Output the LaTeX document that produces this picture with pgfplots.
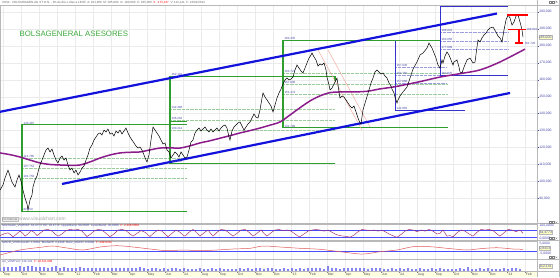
\documentclass[border=0pt]{standalone}
\usepackage{pgfplots}
\usepackage{pgfplotstable}
\pgfplotsset{compat=1.18}
\usepackage{fontspec}
\setmainfont{Liberation Sans}
\definecolor{gbox}{HTML}{2F9E2F}
\definecolor{gfib}{HTML}{9CCB9C}
\definecolor{bchan}{HTML}{1212DC}
\definecolor{bbox}{HTML}{3434CC}
\definecolor{bfib}{HTML}{9C9CE0}
\definecolor{ma}{HTML}{8C1C8C}
\definecolor{lbl}{HTML}{4848A8}
\definecolor{gridc}{HTML}{EBEBEB}
\definecolor{strip}{HTML}{FFFFE2}
\definecolor{brand}{HTML}{3DAA3D}
\definecolor{frame}{HTML}{B8B8B8}
\definecolor{stoch}{HTML}{A02C6C}
\definecolor{macd}{HTML}{E05A5A}
\definecolor{volc}{HTML}{8484F0}
\definecolor{boxfill}{HTML}{FFFFC0}
\definecolor{salmon}{HTML}{F0A090}
\newcommand{\tinyf}{\fontsize{3}{3.5}\selectfont}
\newcommand{\axf}{\fontsize{3.4}{4}\selectfont}

\pgfplotstableread{
x v
0 94.9
3 97.9
5 102.0
8 106.7
10 103.2
12 99.6
15 96.7
17 100.8
19 103.8
21 100.2
23 94.9
25 90.2
27 86.7
28 83.1
30 89.0
32 92.0
33 96.7
35 100.8
37 103.2
38 105.5
40 109.7
42 112.6
44 115.6
46 118.5
48 119.7
50 117.4
52 119.1
54 115.6
56 112.6
58 110.9
60 113.8
62 115.0
64 112.6
66 113.8
68 109.7
70 106.7
72 107.9
74 105.0
76 106.7
78 103.8
80 105.5
82 107.9
84 109.1
86 112.6
88 115.6
90 119.7
92 121.5
94 124.4
96 126.2
98 128.0
100 128.6
102 127.4
104 130.3
106 129.2
108 130.9
110 128.0
112 128.6
114 126.8
116 129.8
118 128.6
120 130.3
122 128.0
124 129.8
126 131.5
128 128.6
130 126.2
132 124.4
134 122.7
136 120.9
138 119.7
140 120.3
142 118.5
144 115.6
146 112.6
147 111.5
149 115.6
151 124.4
153 132.1
155 130.3
157 128.6
159 126.8
161 124.4
163 122.1
165 122.7
167 118.5
169 117.4
171 113.8
173 115.6
175 117.4
177 116.2
179 114.4
181 117.4
183 115.6
185 113.8
187 114.4
189 118.5
191 123.3
193 124.4
195 128.6
197 130.3
199 131.5
201 129.8
203 130.9
205 132.1
207 130.3
209 129.2
211 130.9
213 129.2
215 130.3
217 131.5
219 129.8
221 131.5
223 132.7
225 133.3
227 131.5
229 126.2
230 124.4
232 129.8
234 132.1
236 133.3
238 134.5
240 135.1
242 132.7
244 130.3
246 132.1
248 133.9
250 135.1
252 137.4
254 139.8
256 138.0
258 137.4
260 142.2
262 149.2
263 152.2
265 149.8
267 148.1
269 146.3
271 144.5
273 141.0
275 145.1
277 149.2
279 152.2
281 154.5
283 157.5
285 159.9
287 161.0
289 159.9
291 160.4
293 161.6
295 165.8
297 168.7
299 166.9
301 165.2
303 164.0
305 166.9
307 169.9
309 172.8
311 174.6
312 175.8
314 173.4
316 171.7
318 168.1
320 169.3
322 168.7
324 169.9
326 165.8
327 161.6
329 156.9
330 154.0
332 155.1
334 157.5
336 159.9
337 161.0
339 152.8
340 149.2
342 150.4
344 149.8
346 148.1
348 146.3
350 144.5
352 143.3
354 144.5
356 141.0
358 137.4
360 134.5
361 133.9
363 142.2
366 148.1
369 154.0
371 158.1
373 161.0
375 164.6
377 165.8
379 164.6
381 163.4
383 164.0
385 162.2
387 161.0
389 158.1
391 156.3
392 154.5
394 152.2
395 149.8
397 146.3
398 148.1
400 150.4
403 152.8
407 155.7
410 161.0
413 166.3
417 170.5
420 174.6
423 175.8
427 178.7
429 181.7
432 178.7
434 175.8
436 172.8
438 168.7
440 166.9
442 171.7
443 169.9
445 174.0
447 176.4
449 174.6
451 171.7
453 168.7
454 170.5
457 171.7
459 167.5
460 164.6
462 164.0
464 167.5
467 171.7
470 172.8
473 169.9
475 170.5
477 179.3
478 183.5
480 182.3
482 184.7
484 186.4
486 187.6
488 189.4
490 190.6
493 191.1
496 188.2
498 185.8
500 184.7
502 182.3
504 189.4
506 195.3
508 198.2
510 196.5
512 192.3
514 194.1
516 197.6
518 198.2
520 194.1
522 189.4
523 185.2
}\pricetab

\pgfplotstableread{
x v
0 116.8
10 115.8
20 114.4
30 112.6
40 110.9
50 110.0
60 109.7
70 109.5
80 109.7
90 111.5
100 113.8
110 115.6
120 116.8
130 117.2
140 117.4
150 118.6
160 119.7
170 119.8
180 119.7
190 121.0
200 122.7
210 124.0
220 125.5
230 127.0
240 128.6
250 130.0
260 131.5
270 133.2
280 135.1
290 139.2
300 143.5
310 147.5
320 150.5
330 152.4
340 152.8
353 152.8
367 153.2
380 154.6
395 155.9
420 158.9
440 161.6
460 163.6
480 165.8
500 170.5
525 178.1
}\matab

\pgfplotstableread{
x v
0 30
4 45
8 55
11 35
13 20
16 40
20 70
23 50
25 25
28 45
31 75
34 60
37 30
40 50
44 80
48 85
52 70
55 45
58 25
62 45
66 75
70 85
74 80
78 85
82 70
85 40
87 22
90 40
94 70
98 85
102 80
106 50
110 20
114 45
118 80
122 85
126 75
130 45
133 25
137 50
141 75
145 60
148 35
150 22
154 55
158 80
162 70
165 45
168 20
172 50
176 80
180 60
183 35
185 25
189 60
193 85
197 55
200 25
204 55
208 80
211 45
213 25
217 60
221 85
225 80
229 55
233 25
237 50
241 80
245 85
249 60
253 25
257 50
261 80
264 50
267 25
271 55
275 80
279 85
283 75
287 80
291 70
295 45
298 25
300 20
304 45
308 70
312 80
316 85
320 80
324 70
328 80
332 60
336 40
340 30
344 25
348 20
350 15
354 35
358 65
362 85
366 80
370 75
374 80
378 70
382 80
386 60
390 40
394 25
397 15
401 40
405 70
409 85
413 80
417 65
421 80
425 70
429 85
433 70
437 45
440 50
443 80
447 25
450 30
453 20
457 55
461 80
465 70
469 45
473 25
477 60
481 85
485 80
489 85
493 75
497 45
500 25
504 55
508 85
512 80
516 65
520 80
523 50
}\stochtab

\pgfplotstableread{
x v
0 -3.5
20 1.5
43 4.5
53 5.5
67 3.5
83 1.5
100 4.5
117 5.8
133 4.5
150 2.5
167 0.8
183 1.5
200 0.8
217 1.5
233 2.5
250 3.2
263 5.5
280 4.5
300 3.2
320 2.2
340 -0.2
360 -2.5
370 -1.8
380 -0.2
397 1.5
413 4.8
430 4.8
447 3.2
467 1.5
480 2.8
497 3.8
513 2.5
523 2.2
}\macdtab

\pgfplotstableread{
vol
3.5
4.2
3.8
4.5
3.9
4.8
3.6
5.5
4.9
4.1
3.8
4.4
3.5
4.0
4.6
3.2
3.8
3.0
3.4
2.9
3.6
3.1
2.7
3.3
2.8
3.0
2.6
3.5
2.9
3.1
2.7
3.2
2.6
3.0
2.8
3.9
2.7
2.4
2.9
3.3
2.5
2.8
2.3
2.6
2.9
2.4
2.7
2.2
2.5
2.1
2.8
2.4
2.2
2.6
2.3
2.9
2.5
2.2
2.0
2.4
2.6
2.3
2.8
2.5
3.1
2.7
2.4
2.6
2.9
2.3
2.5
2.8
2.2
2.6
2.4
2.7
2.5
2.9
3.1
2.6
2.8
2.4
5.2
3.0
2.7
2.5
2.9
3.2
2.6
2.8
3.0
2.7
2.4
2.8
2.6
3.1
2.5
2.3
2.7
2.4
2.9
2.2
2.6
2.5
2.3
2.7
2.4
2.1
2.6
2.3
2.8
2.2
2.5
2.0
2.4
2.7
2.3
3.6
2.5
2.2
2.6
2.3
2.8
2.4
2.1
2.5
2.9
2.3
2.6
3.0
2.4
}\voltab

\pgfplotsset{
  panel/.style={scale only axis, width=537pt, xmin=0, xmax=537,
    anchor=south west,
    axis line style={draw=frame, line width=0.4pt},
    xtick={3,21,...,525}, xticklabels={}, xtick style={draw=none},
    xmajorgrids, ymajorgrids, major grid style={draw=gridc, line width=0.3pt},
    ytick pos=right, yticklabel pos=right,
    tick align=outside, major tick length=1.5pt,
    ytick style={draw=lbl, line width=0.3pt},
    /pgf/number format/assume math mode=true,
    yticklabel style={font=\axf, text=lbl, inner sep=0.6pt}},
}
\tikzset{
  fibl/.style={line width=0.3pt, densely dotted},
  flab/.style={font=\tinyf, text=lbl, anchor=south west, inner sep=0.3pt},
}

\begin{document}
\begin{tikzpicture}[x=1pt,y=1pt]
\useasboundingbox (0,0) rectangle (560,277);
\fill[white] (0,0) rectangle (560,277);
\fill[strip] (0,0) rectangle (537,6);

% ---------------- main price panel ----------------
\begin{axis}[panel, at={(0pt,54pt)}, height=218pt,
  ymin=75.45, ymax=204.13, ytick={90,100,...,200},
  yticklabel={\pgfmathprintnumber[fixed,fixed zerofill,precision=3,use comma,assume math mode=true]{\tick}}]
% fibonacci levels
\addplot[gfib, fibl] coordinates {(22,113.786)(187,113.786)};
\addplot[gfib, fibl] coordinates {(22,107.751)(187,107.751)};
\addplot[gfib, fibl] coordinates {(22,101.750)(187,101.750)};
\addplot[gfib, fibl] coordinates {(170,142.483)(335,142.483)};
\addplot[gfib, fibl] coordinates {(170,136.262)(335,136.262)};
\addplot[gfib, fibl] coordinates {(170,130.214)(335,130.214)};
\addplot[gfib, fibl] coordinates {(283,163.727)(447,163.727)};
\addplot[gfib, fibl] coordinates {(283,157.600)(447,157.600)};
\addplot[gfib, fibl] coordinates {(283,151.474)(447,151.474)};
\addplot[bfib, fibl] coordinates {(395,167.620)(447,167.620)};
\addplot[bfib, fibl] coordinates {(395,162.750)(447,162.750)};
\addplot[bfib, fibl] coordinates {(395,157.880)(447,157.880)};
\addplot[bfib, fibl] coordinates {(440,188.001)(508,188.001)};
\addplot[bfib, fibl] coordinates {(440,183.050)(508,183.050)};
\addplot[bfib, fibl] coordinates {(440,178.099)(508,178.099)};
% green boxes
\addplot[gbox, line width=1.1pt] coordinates {(187,133.487)(22,133.487)(22,82.350)(187,82.350)};
\addplot[gbox, line width=1.1pt] coordinates {(335,159.5)(335,162.181)(170,162.181)(170,110.642)(335,110.642)};
\addplot[gbox, line width=1.1pt] coordinates {(170,135.2)(187,135.2)};
\addplot[gbox, line width=1.1pt] coordinates {(440,183.435)(283,183.435)(283,131.789)(448,131.789)};
% blue boxes
\addplot[bbox, line width=0.8pt] coordinates {(395,183.0)(395,142.065)(465,142.065)};
\addplot[bbox, line width=0.8pt] coordinates {(508,203.275)(440,203.275)(440,162.825)(508,162.825)};
% salmon descending channel
\addplot[salmon, line width=0.4pt] coordinates {(318,177.6)(362,130.3)};
\addplot[salmon, line width=0.4pt] coordinates {(328,177.6)(370,132.1)};
% blue trend channel
\addplot[bchan, line width=2.2pt] coordinates {(0,141.1)(497,199.1)};
\addplot[bchan, line width=2.2pt] coordinates {(62,98.5)(510,152.2)};
% moving average
\addplot[ma, line width=1.5pt, smooth] table[x=x,y=v]{\matab};
% price
\addplot[black, line width=0.5pt] table[x=x,y=v]{\pricetab};
% red target lines
\addplot[red, line width=1.1pt] coordinates {(507,198.2)(528,198.2)};
\addplot[red, line width=1.1pt] coordinates {(508,189.9)(526,189.9)};
\addplot[red, line width=1.1pt] coordinates {(519,189.9)(519,181.7)};
\addplot[red, line width=1.1pt] coordinates {(515,181.7)(523,181.7)};
% level labels
\node[flab] at (axis cs:23,133.487) {133.487};
\node[flab] at (axis cs:23,113.786) {113.786};
\node[flab] at (axis cs:23,107.751) {107.751};
\node[flab] at (axis cs:23,101.750) {101.750};
\node[flab] at (axis cs:23,82.350) {82.350};
\node[flab] at (axis cs:171,162.181) {162.181};
\node[flab] at (axis cs:171,142.483) {142.483};
\node[flab] at (axis cs:171,136.262) {136.262};
\node[flab] at (axis cs:171,130.214) {130.214};
\node[flab] at (axis cs:171,110.642) {110.642};
\node[flab] at (axis cs:284,183.435) {183.435};
\node[flab] at (axis cs:284,163.727) {163.727};
\node[flab] at (axis cs:284,157.600) {157.600};
\node[flab] at (axis cs:284,151.474) {151.474};
\node[flab] at (axis cs:284,131.789) {131.789};
\node[flab] at (axis cs:396,167.620) {167.620};
\node[flab] at (axis cs:396,162.750) {162.750};
\node[flab] at (axis cs:396,157.880) {157.880};
\node[flab] at (axis cs:396,142.065) {142.065};
\node[flab] at (axis cs:441,203.275) {203.275};
\node[flab] at (axis cs:441,188.001) {188.001};
\node[flab] at (axis cs:441,183.050) {183.050};
\node[flab] at (axis cs:441,178.099) {177.099};
\node[flab] at (axis cs:441,162.825) {162.825};
\node[flab, anchor=west] at (axis cs:526,189.9) {189.915};
\node[flab, anchor=west] at (axis cs:524,181.7) {181.726};
\coordinate (pb) at (axis cs:537,185.0);
\end{axis}

% ---------------- stochastic ----------------
\begin{axis}[panel, at={(0pt,36.5pt)}, height=16.5pt, ymin=-14, ymax=134, ytick=\empty]
\addplot[blue!70, line width=0.4pt] coordinates {(0,80)(537,80)};
\addplot[blue!70, line width=0.4pt] coordinates {(0,20)(537,20)};
\addplot[stoch, line width=0.45pt] table[x=x,y=v]{\stochtab};
\end{axis}

% ---------------- MACD ----------------
\begin{axis}[panel, at={(0pt,18pt)}, height=18pt, ymin=-7.5, ymax=10.5, ytick=\empty]
\addplot[blue!70, line width=0.4pt] coordinates {(0,0)(537,0)};
\addplot[macd, line width=0.5pt, smooth] table[x=x,y=v]{\macdtab};
\end{axis}

% ---------------- volume ----------------
\begin{axis}[panel, at={(0pt,6pt)}, height=11.5pt, ymin=0, ymax=11.5, ytick=\empty,
  xticklabels={Sep,Oct,Nov,Dec,'12,Feb,Mar,Apr,May,Jun,Jul,Aug,Sep,Oct,Nov,Dec,'13,Feb,Mar,Apr,May,Jun,Jul,Aug,Sep,Oct,Nov,Dec,'14,Feb},
  xtick pos=lower, xtick style={draw=black!50, line width=0.3pt},
  xticklabel style={font=\axf, text=black!70, anchor=north west, inner sep=0.4pt, xshift=0.3pt}]
\addplot[volc, ycomb, line width=2.6pt] table[x expr=\coordindex*4, y=vol]{\voltab};
\end{axis}

% ---------------- frame of right column and separators ----------------
\draw[frame, line width=0.4pt] (537,0) -- (537,277);
\draw[frame, line width=0.4pt] (559.6,0) -- (559.6,277);
\draw[frame, line width=0.4pt] (0,54) -- (559.6,54);
\draw[frame, line width=0.4pt] (0,36.5) -- (559.6,36.5);
\draw[frame, line width=0.4pt] (0,18) -- (559.6,18);
\draw[frame, line width=0.4pt] (0,6) -- (559.6,6);
\draw[frame, line width=0.4pt] (0,272) -- (559.6,272);

% window icons
\foreach \yy in {275.2,54.6,38.6,19.6} {
  \foreach \xx in {549.5,552.5} {\draw[gray, line width=0.2pt] (\xx,\yy-0.9) rectangle (\xx+2,\yy+0.9);}
  \draw[gray, line width=0.25pt] (555.5,\yy-0.9) -- (557.3,\yy+0.9) (555.5,\yy+0.9) -- (557.3,\yy-0.9);
}

% current price box
\node[anchor=west, fill=boxfill, draw=frame, line width=0.2pt, font=\axf, text=lbl, inner sep=0.5pt] at ([xshift=1.5pt]pb) {185,000};

% sub-panel labels
\node[anchor=west, font=\axf, text=lbl, inner sep=0.3pt] at (539,51.3) {100,0000};
\node[anchor=west, fill=boxfill, draw=frame, line width=0.2pt, font=\axf, text=lbl, inner sep=0.5pt] at (539,44.5) {34,4773};
\node[anchor=west, font=\axf, text=lbl, inner sep=0.3pt] at (539,38.6) {0,0000};
\node[anchor=west, font=\axf, text=lbl, inner sep=0.3pt] at (539,33.2) {5,0000};
\node[anchor=west, fill=boxfill, draw=frame, line width=0.2pt, font=\axf, text=lbl, inner sep=0.5pt] at (539,28.8) {0,8413};
\node[anchor=west, font=\axf, text=lbl, inner sep=0.3pt] at (539,23.2) {-5,0000};
\node[anchor=west, fill=boxfill, draw=frame, line width=0.2pt, font=\axf, text=lbl, inner sep=0.5pt] at (539,10.5) {112,141};

% titles
\node[anchor=west, font=\tinyf, text=gray!80!black, inner sep=0] at (2,274.6)
  {VOW - VOLKSWAGEN AG ST O.N. - Dn de día 1 días a 18:00 \ A: 181,900 \ M: 185,800 \ m: 180,800 \ C: 185,000 \ \textcolor{red}{V: -175,167} \ V: 112,141 \ F: 24/01/2014};
\node[anchor=west, font=\fontsize{7.8}{9}\selectfont, text=brand, inner sep=0] at (19.5,243.5) {BOLSAGENERAL ASESORES};
\node[anchor=west, font=\tinyf, text=black!60, fill=gray!15, draw=gray!50, line width=0.2pt, inner sep=0.6pt] at (2,58) {Dn Interval};
\node[anchor=west, font=\fontsize{5}{6}\selectfont, text=gray!70, inner sep=0] at (19,58) {www.visualchart.com};
\node[anchor=west, font=\tinyf, inner sep=0] at (2,51.4)
  {\textcolor{lbl}{Stochastic\_VOW 80: 34.4773 \ 80: 33.4770 \ UpperBand: 80.0000 \ LowerBand: 20.0000} \ \textcolor{red}{F: 2,338.5858}};
\node[anchor=west, font=\tinyf, inner sep=0] at (2,34.3)
  {\textcolor{lbl}{MACD\_VOW Ave26: 1.5810 \ Media26: 2.2448 \ Banc\_MACD: 0.0000} \ \textcolor{red}{F: 299.8412}};
\node[anchor=west, font=\tinyf, inner sep=0] at (2,15.6)
  {\textcolor{lbl}{vol\_VOW Vol: 112.141} \ \textcolor{red}{F: 18,511,688}};
\end{tikzpicture}
\end{document}
